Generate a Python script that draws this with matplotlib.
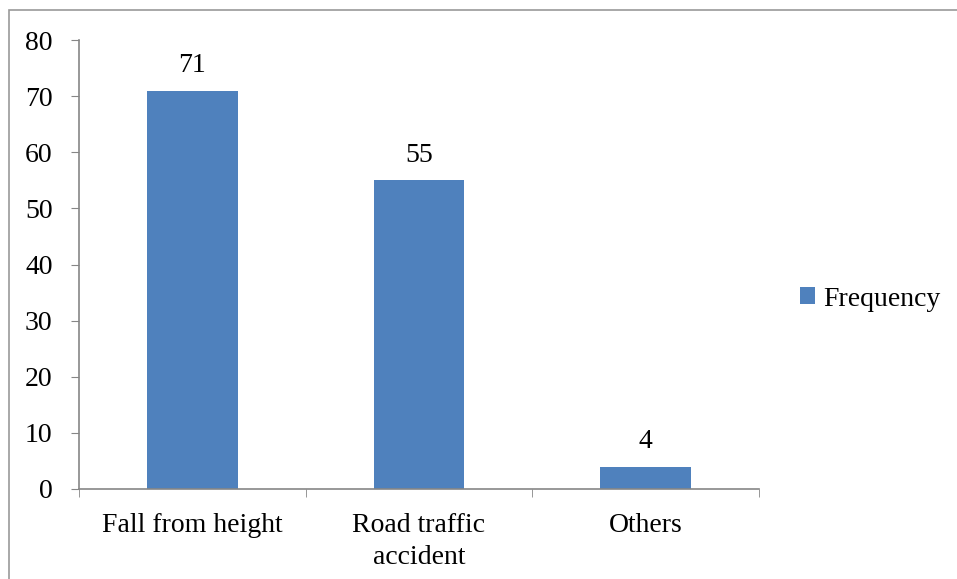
import matplotlib
matplotlib.use("Agg")
import matplotlib.pyplot as plt
from matplotlib.patches import Rectangle, Patch

categories = ["Fall from height", "Road traffic\naccident", "Others"]
frequency = [71, 55, 4]
series_name = "Frequency"

bar_color = "#4F81BD"
axis_color = "#868686"

plt.rcParams["font.family"] = ["Liberation Serif", "DejaVu Serif"]

fig = plt.figure(figsize=(9.57, 5.79), dpi=100)
ax = fig.add_axes([79 / 957, 1 - 489 / 579, (759 - 79) / 957, (489 - 40) / 579])

x = list(range(len(categories)))
ax.bar(x, frequency, width=0.4, color=bar_color, label=series_name)
for xi, v in zip(x, frequency):
    ax.annotate(str(v), (xi, v), xytext=(0, 9), textcoords="offset points",
                ha="center", va="bottom", fontsize=20)

ax.set_xlim(-0.5, len(categories) - 0.5)
ax.set_ylim(0, 80)
ax.set_yticks(range(0, 81, 10))
ax.tick_params(axis="y", direction="out", length=6, color=axis_color, labelsize=20, pad=13)

ax.set_xticks(x)
ax.set_xticklabels(categories, fontsize=20, linespacing=1.4)
ax.tick_params(axis="x", length=0, pad=17)
ax.set_xticks([i - 0.5 for i in range(len(categories) + 1)], minor=True)
ax.tick_params(axis="x", which="minor", direction="out", length=6, color=axis_color)

for side in ("top", "right"):
    ax.spines[side].set_visible(False)
for side in ("left", "bottom"):
    ax.spines[side].set_color(axis_color)
    ax.spines[side].set_linewidth(1.2)

handle = Patch(facecolor=bar_color, label=series_name)
fig.legend(handles=[handle], loc="center left", bbox_to_anchor=(786 / 957, 1 - 299 / 579),
           frameon=False, fontsize=20, handlelength=0.55, handleheight=0.55,
           handletextpad=0.3, borderpad=0)

fig.patches.append(Rectangle((9 / 957, -0.1), 1.2, 1.1 - 10 / 579, transform=fig.transFigure,
                             fill=False, edgecolor="#999999", linewidth=1.2))

fig.savefig("out.png", dpi=100)
